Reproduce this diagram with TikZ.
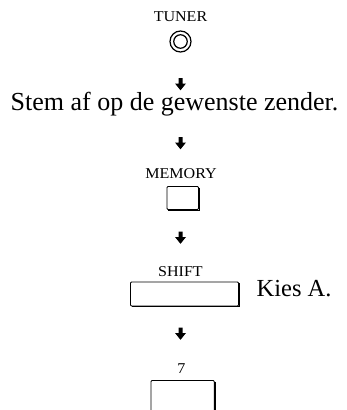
\documentclass[tikz,border=0pt]{standalone}
\usepackage{fontspec}
\setmainfont{Liberation Serif}
\newfontfamily\wideserif[FakeStretch=1.07]{Liberation Serif}
\begin{document}
\begin{tikzpicture}[x=1pt,y=-1pt,
  lbl/.style={inner sep=0pt, anchor=base, font=\wideserif\fontsize{15}{15}\selectfont},
  big/.style={inner sep=0pt, anchor=base, font=\fontsize{26}{26}\selectfont},
  keybox/.style={draw, line width=0.8pt, rounded corners=1pt},
  shade/.style={line width=1.4pt}]
\clip (0,0) rectangle (346,410);
\useasboundingbox (0,0) rectangle (346,410);
\newcommand{\downarr}[2]{\fill (#1-2,#2) -- (#1+2,#2) -- (#1+2,#2+5.5) -- (#1+5.5,#2+5.5) -- (#1,#2+12.3) -- (#1-5.5,#2+5.5) -- (#1-2,#2+5.5) -- cycle;}
% TUNER
\node[lbl] (tuner) at (180.5,21) {TUNER};
\node[circle, draw, line width=1.2pt, minimum size=21pt, inner sep=0pt] (knob) at (180.5,41.5) {};
\node[circle, draw, line width=1.2pt, minimum size=13.5pt, inner sep=0pt] (knobin) at (knob.center) {};
\downarr{180.5}{78}
\node[big] (stem) at (174.5,110.5) {Stem af op de gewenste zender.};
\downarr{180.5}{137}
\node[lbl] (memory) at (181,178.3) {MEMORY};
\draw[keybox] (167,186.5) rectangle (198.5,209.5);
\draw[shade] (199.2,187.5) -- (199.2,210.2) -- (168,210.2);
\downarr{180.5}{231.5}
\node[lbl] (shift) at (180.5,276.5) {SHIFT};
\draw[keybox] (130.5,282) rectangle (238.5,306);
\draw[shade] (239.2,283) -- (239.2,306.7) -- (131.5,306.7);
\node[inner sep=0pt, anchor=base west, font=\fontsize{24.5}{24.5}\selectfont] (kies) at (256.5,296.7) {Kies A.};
\downarr{180.5}{327.5}
\node[lbl] (seven) at (181.5,373) {7};
\draw[keybox] (151,380.5) rectangle (214.3,415);
\draw[shade] (215,381.5) -- (215,415);
\end{tikzpicture}
\end{document}
